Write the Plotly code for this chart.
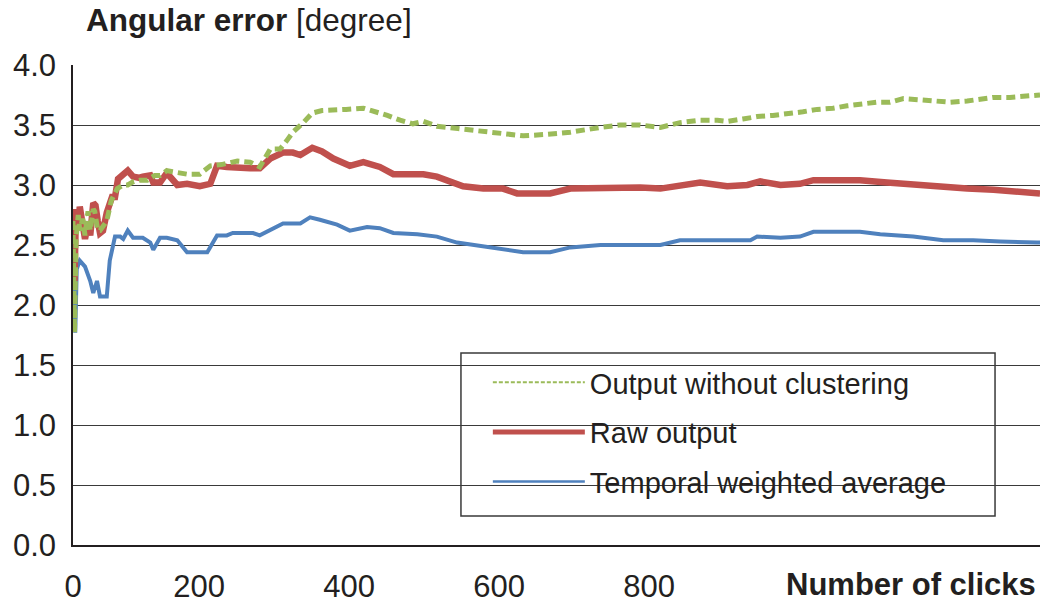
import plotly.graph_objects as go

# ---- data -------------------------------------------------------------
green_x = [32, 34, 36, 39, 41, 45, 48, 52, 55, 59, 61, 65, 68, 73, 77, 83, 91, 99, 105, 113,
           121, 131, 141, 148, 157, 165, 184, 201, 215, 230, 251, 268, 281, 295, 308, 317, 325,
           339, 351, 364, 377, 396, 419, 437, 451, 468, 485, 499, 517, 545, 585, 611, 632, 659,
           695, 735, 761, 788, 815, 841, 868, 891, 904, 925, 944, 965, 984, 1005, 1024, 1045,
           1064, 1085, 1104, 1121, 1139, 1161, 1179, 1201, 1224, 1241, 1259, 1281, 1299, 1321]
green_y = [2.70, 1.77, 2.55, 2.75, 2.62, 2.72, 2.58, 2.78, 2.62, 2.80, 2.78, 2.62, 2.62, 2.66,
           2.70, 2.87, 2.97, 3.00, 3.00, 3.03, 3.04, 3.04, 3.08, 3.08, 3.12, 3.11, 3.09, 3.09,
           3.16, 3.17, 3.20, 3.19, 3.15, 3.30, 3.30, 3.37, 3.44, 3.52, 3.60, 3.62, 3.62, 3.63,
           3.64, 3.61, 3.58, 3.54, 3.51, 3.53, 3.49, 3.47, 3.44, 3.43, 3.41, 3.42, 3.44, 3.48,
           3.50, 3.50, 3.48, 3.52, 3.54, 3.54, 3.53, 3.55, 3.57, 3.58, 3.59, 3.61, 3.63, 3.64,
           3.66, 3.68, 3.69, 3.69, 3.72, 3.71, 3.70, 3.69, 3.70, 3.71, 3.73, 3.73, 3.74, 3.75]

red_x = [32, 34, 36, 39, 41, 45, 48, 52, 55, 59, 62, 65, 68, 72, 77, 84, 88, 92, 98, 105, 112,
         120, 125, 131, 135, 139, 148, 157, 165, 171, 184, 192, 201, 215, 224, 237, 251, 268,
         281, 295, 312, 325, 335, 351, 364, 379, 401, 419, 441, 459, 481, 499, 517, 535, 552,
         579, 605, 624, 645, 668, 695, 735, 761, 788, 815, 841, 868, 904, 931, 948, 975, 1001,
         1019, 1045, 1081, 1117, 1152, 1188, 1224, 1259, 1295, 1317, 1321]
red_y = [2.78, 2.20, 2.80, 2.62, 2.82, 2.62, 2.55, 2.68, 2.58, 2.85, 2.83, 2.70, 2.60, 2.62,
         2.77, 2.90, 2.90, 3.05, 3.08, 3.12, 3.07, 3.06, 3.07, 3.08, 3.08, 3.02, 3.02, 3.10,
         3.03, 3.00, 3.01, 3.00, 2.99, 3.01, 3.16, 3.15, 3.14, 3.14, 3.14, 3.22, 3.27, 3.27,
         3.25, 3.31, 3.28, 3.22, 3.16, 3.19, 3.15, 3.09, 3.09, 3.09, 3.07, 3.03, 2.99, 2.97,
         2.97, 2.93, 2.93, 2.93, 2.97, 2.98, 2.98, 2.98, 2.97, 3.00, 3.02, 2.99, 3.00, 3.03,
         3.00, 3.01, 3.04, 3.04, 3.04, 3.02, 3.00, 2.98, 2.97, 2.96, 2.94, 2.93, 2.93]

blue_x = [32, 35, 37, 41, 48, 55, 59, 64, 68, 77, 81, 88, 95, 99, 105, 112, 125, 135, 139, 148,
          157, 171, 184, 201, 211, 224, 237, 245, 272, 281, 299, 312, 335, 348, 361, 384, 401,
          424, 441, 459, 491, 517, 544, 579, 615, 632, 668, 695, 735, 788, 815, 841, 868, 912,
          935, 944, 975, 1001, 1019, 1045, 1081, 1108, 1152, 1192, 1232, 1268, 1295, 1317, 1321]
blue_y = [2.40, 1.77, 2.30, 2.37, 2.32, 2.20, 2.10, 2.20, 2.07, 2.07, 2.37, 2.57, 2.57, 2.55,
          2.62, 2.56, 2.56, 2.52, 2.46, 2.56, 2.56, 2.54, 2.44, 2.44, 2.44, 2.58, 2.58, 2.60,
          2.60, 2.58, 2.64, 2.68, 2.68, 2.73, 2.71, 2.67, 2.62, 2.65, 2.64, 2.60, 2.59, 2.57,
          2.52, 2.49, 2.46, 2.44, 2.44, 2.48, 2.50, 2.50, 2.50, 2.54, 2.54, 2.54, 2.54, 2.57,
          2.56, 2.57, 2.61, 2.61, 2.61, 2.59, 2.57, 2.54, 2.54, 2.53, 2.52, 2.52, 2.52]

series_names = ["Output without clustering", "Raw output", "Temporal weighted average"]
x_tickvals = [32, 200, 400, 600, 800]
x_ticktext = ["0", "200", "400", "600", "800"]
y_tickvals = [0.0, 0.5, 1.0, 1.5, 2.0, 2.5, 3.0, 3.5, 4.0]

GREEN = "#9BBB59"
RED = "#C0504D"
BLUE = "#4F81BD"
FONT = "Liberation Sans"
INK = "#231f20"

fig = go.Figure()

# plotted series (blue underneath, dashed green on top)
fig.add_trace(go.Scatter(x=blue_x, y=blue_y, mode="lines", showlegend=False,
                         line=dict(color=BLUE, width=4)))
fig.add_trace(go.Scatter(x=red_x, y=red_y, mode="lines", showlegend=False,
                         line=dict(color=RED, width=6.5)))
fig.add_trace(go.Scatter(x=green_x, y=green_y, mode="lines", showlegend=False,
                         line=dict(color=GREEN, width=5, dash="9px,5px")))

# legend entries (thin key lines)
legend_styles = [dict(color=GREEN, width=2, dash="4px,2px"),
                 dict(color=RED, width=5),
                 dict(color=BLUE, width=2.5)]
for i, (name, st) in enumerate(zip(series_names, legend_styles)):
    fig.add_trace(go.Scatter(x=[None], y=[None], mode="lines", name=name,
                             legendgroup=f"g{i}", line=st))

fig.update_layout(
    width=1040, height=604,
    margin=dict(l=73, r=0, t=65, b=59),
    paper_bgcolor="white", plot_bgcolor="white",
    font=dict(family=FONT, size=29, color=INK),
    showlegend=True,
    legend=dict(x=0.429, y=0.392, xanchor="left", yanchor="top",
                bgcolor="rgba(0,0,0,0)", borderwidth=0,
                font=dict(family=FONT, size=29, color=INK),
                itemwidth=92, tracegroupgap=9, traceorder="grouped"),
    xaxis=dict(range=[32, 1321], tickvals=x_tickvals, ticktext=x_ticktext,
               showgrid=False, zeroline=False, showline=True, linecolor=INK,
               linewidth=2, ticks="outside", ticklen=13, tickcolor="rgba(0,0,0,0)",
               tickfont=dict(family=FONT, size=31, color=INK)),
    yaxis=dict(range=[0, 4.0], tickvals=y_tickvals, tickformat=".1f",
               showgrid=True, gridcolor="#3a3a3a", gridwidth=1, zeroline=False,
               showline=True, linecolor=INK, linewidth=1.5,
               ticks="", ticklabelstandoff=9,
               tickfont=dict(family=FONT, size=31, color=INK)),
    shapes=[dict(type="rect", xref="paper", yref="paper",
                 x0=0.4012, x1=0.9535, y0=0.0604, y1=0.4,
                 line=dict(color="#3a3a3a", width=1.5), fillcolor="rgba(0,0,0,0)")],
    annotations=[
        dict(text="<b>Angular error</b> [degree]", xref="paper", yref="paper",
             x=0.011, y=1.094, xanchor="left", yanchor="middle", showarrow=False,
             font=dict(family=FONT, size=31.5, color=INK)),
        dict(text="<b>Number of clicks</b>", xref="paper", yref="paper",
             x=0.998, y=-0.083, xanchor="right", yanchor="middle", showarrow=False,
             font=dict(family=FONT, size=31, color=INK)),
    ],
)

fig.write_html("out.html")
